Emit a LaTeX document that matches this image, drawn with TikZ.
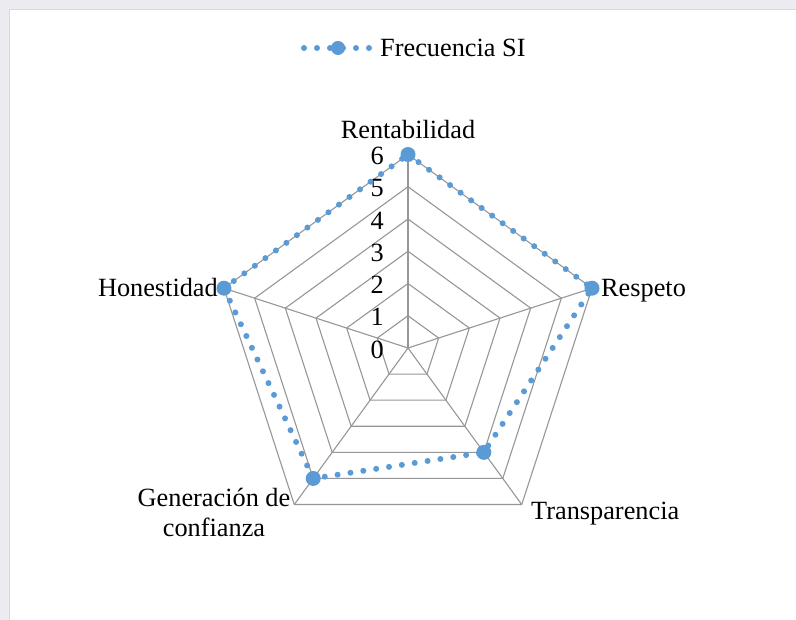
\documentclass[tikz,border=0pt]{standalone}
\usepackage{fontspec}
\setmainfont{Liberation Serif}
\definecolor{ser}{HTML}{5B9BD5}
\definecolor{gridc}{HTML}{979797}
\definecolor{bgc}{HTML}{ECECF0}
\definecolor{borderc}{HTML}{D9D9D9}
\begin{document}
\begin{tikzpicture}[x=1pt,y=1pt,
  gridline/.style={draw=gridc,line width=1.1pt},
  serline/.style={draw=ser,line width=6pt,line cap=round,dash pattern=on 0pt off 13pt},
  mk/.style={circle,fill=ser,inner sep=0pt,minimum size=15pt},
  lbl/.style={font=\fontsize{26.3}{30}\selectfont,inner sep=0pt}]
\useasboundingbox (0,0) rectangle (796,620);
\fill[bgc] (0,0) rectangle (796,620);
\fill[white,draw=borderc,line width=1pt] (9,-2) rectangle (800,610);
% legend
\coordinate (l1) at (304,572);
\coordinate (l2) at (370,572);
\draw[serline] (l1) -- (l2);
\node[mk,minimum size=14pt] (lm) at (338,572) {};
\node[lbl,anchor=base west] (lt) at (380,563) {Frecuencia SI};
\begin{scope}[shift={(408,272)}]
  \def\u{32.25}
  \coordinate (o) at (0,0);
  \foreach \a/\n in {90/1,18/2,-54/3,-126/4,162/5}{
    \coordinate (v\n) at (\a:6*\u);
  }
  \foreach \k in {1,...,6}{
    \draw[gridline] (90:\k*\u) -- (18:\k*\u) -- (-54:\k*\u) -- (-126:\k*\u) -- (162:\k*\u) -- cycle;
  }
  \foreach \n in {1,...,5}{\draw[gridline] (o) -- (v\n);}
  \foreach \k in {0,...,6}{
    \node[lbl,anchor=east] (n\k) at (-24,\k*\u-1.5) {\k};
  }
  % data
  \coordinate (d1) at (90:6*\u);
  \coordinate (d2) at (18:6*\u);
  \coordinate (d3) at (-54:4*\u);
  \coordinate (d4) at (-126:5*\u);
  \coordinate (d5) at (162:6*\u);
  \draw[serline] (d1) -- (d2) -- (d3) -- (d4) -- (d5) -- cycle;
  \foreach \n in {1,...,5}{\node[mk] (m\n) at (d\n) {};}
\end{scope}
% category labels
\node[lbl,anchor=base] (c1) at (408,481) {Rentabilidad};
\node[lbl,anchor=base west] (c2) at (601,323) {Respeto};
\node[lbl,anchor=base west] (c3) at (531,100) {Transparencia};
\node[lbl,anchor=base east] (c5) at (218,323) {Honestidad};
\node[lbl,align=center,anchor=north] (c4) at (214,132) {Generación de\\confianza};
\end{tikzpicture}
\end{document}
